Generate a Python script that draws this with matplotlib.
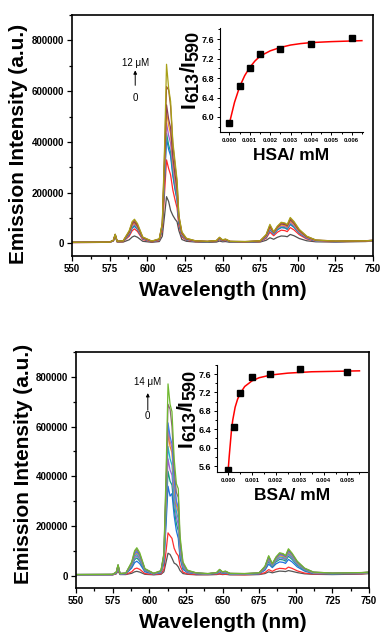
import numpy as np
import matplotlib
matplotlib.use("Agg")
import matplotlib.pyplot as plt
from matplotlib.ticker import MultipleLocator, FixedLocator

plt.rcParams['font.family'] = ['Liberation Sans', 'DejaVu Sans']

W, H = 382, 634

# -- wavelength grid (nm) shared by every spectrum --
wl = [550, 575, 577.5, 578.7, 580, 584, 588, 590, 591.5, 593.5, 597, 603, 608, 610,
      611.5, 612.8, 614.2, 615.5, 617, 618.5, 619.8, 621, 623, 626, 632, 640, 646, 648,
      650, 652, 655, 665, 675, 679, 681.5, 684, 686.5, 689, 691.5, 693, 695, 697.5,
      701, 706, 712, 725, 745, 750]

# -- HSA titration, intensities in units of 1000 --
hsa_curves = [
    [3, 4, 9, 28, 5, 5, 14, 25, 29, 24, 8, 4, 7, 28, 110, 184, 165, 130, 110, 95, 85, 50, 15, 8, 5, 4, 5, 9, 6, 7, 4, 4, 5, 12, 22, 16, 24, 29, 28, 26, 35, 30, 19, 10, 6, 5, 7, 9],
    [3, 4, 10, 31, 6, 7, 28, 50, 57, 47, 15, 6, 11, 50, 200, 329, 295, 270, 210, 170, 140, 70, 25, 12, 7, 6, 8, 15, 9, 11, 6, 5, 7, 20, 44, 30, 44, 52, 50, 46, 62, 53, 34, 17, 8, 7, 8, 10],
    [4, 4, 11, 32, 7, 8, 34, 60, 67, 55, 18, 7, 13, 60, 250, 414, 370, 345, 265, 210, 170, 82, 30, 14, 8, 6, 9, 17, 10, 12, 6, 5, 8, 24, 53, 36, 53, 62, 60, 55, 74, 63, 40, 20, 9, 7, 9, 11],
    [4, 4, 11, 33, 7, 8, 36, 63, 70, 57, 19, 7, 13, 63, 262, 434, 388, 360, 275, 218, 176, 85, 31, 14, 8, 6, 9, 18, 10, 12, 6, 5, 8, 25, 55, 38, 55, 64, 62, 57, 77, 65, 41, 21, 9, 7, 9, 11],
    [4, 4, 11, 33, 7, 9, 39, 68, 75, 61, 20, 7, 14, 68, 285, 474, 425, 395, 300, 235, 190, 92, 34, 15, 8, 7, 10, 19, 11, 13, 7, 6, 8, 27, 59, 40, 59, 68, 66, 61, 82, 69, 44, 22, 10, 7, 9, 11],
    [4, 4, 12, 34, 7, 9, 42, 73, 80, 65, 21, 8, 15, 72, 310, 520, 465, 432, 325, 255, 205, 98, 37, 16, 9, 7, 10, 20, 12, 14, 7, 6, 9, 29, 63, 42, 62, 72, 70, 65, 88, 74, 47, 24, 11, 8, 9, 11],
    [4, 5, 12, 35, 8, 9, 44, 77, 84, 68, 22, 8, 16, 75, 325, 546, 490, 455, 340, 268, 215, 100, 39, 17, 9, 7, 10, 21, 12, 15, 7, 6, 9, 31, 67, 43, 64, 76, 74, 68, 93, 78, 50, 25, 12, 8, 10, 12],
    [4, 5, 12, 35, 8, 10, 47, 82, 90, 73, 24, 8, 17, 78, 355, 618, 605, 540, 390, 305, 240, 108, 43, 19, 10, 8, 11, 23, 13, 16, 8, 7, 10, 33, 71, 44, 66, 80, 78, 72, 98, 83, 53, 27, 13, 9, 10, 12],
    [4, 5, 12, 36, 8, 10, 50, 86, 95, 78, 25, 9, 18, 80, 380, 706, 612, 560, 400, 320, 250, 110, 45, 20, 10, 8, 11, 24, 14, 17, 8, 7, 10, 35, 75, 45, 68, 83, 80, 74, 102, 86, 55, 28, 13, 9, 10, 12],
]
hsa_colors = ['#505050', '#ff2a2a', '#1e6fe0', '#12a58a', '#a35bd6', '#f0a020',
              '#8b3c5a', '#a0522d', '#a8a018']

# -- BSA titration, intensities in units of 1000 --
bsa_curves = [
    [3, 3, 7, 20, 4, 4, 9, 15, 17, 14, 5, 3, 5, 15, 55, 90, 85, 70, 50, 45, 35, 20, 8, 5, 3, 3, 4, 6, 4, 5, 3, 3, 4, 8, 15, 11, 15, 18, 17, 16, 20, 17, 12, 7, 5, 4, 6, 8],
    [3, 3, 8, 24, 5, 5, 15, 27, 30, 25, 8, 4, 7, 25, 100, 172, 160, 150, 110, 90, 80, 40, 14, 7, 4, 4, 5, 8, 5, 6, 4, 3, 5, 12, 24, 17, 25, 29, 28, 26, 34, 29, 19, 10, 6, 5, 7, 9],
    [3, 4, 10, 32, 6, 7, 30, 52, 58, 48, 15, 6, 11, 50, 210, 360, 320, 330, 240, 180, 150, 70, 25, 12, 7, 6, 8, 15, 9, 11, 6, 5, 7, 22, 46, 32, 47, 55, 53, 49, 65, 55, 35, 18, 8, 7, 8, 10],
    [4, 4, 11, 35, 7, 8, 36, 64, 71, 58, 19, 7, 13, 58, 245, 420, 380, 365, 270, 210, 180, 82, 30, 14, 8, 6, 9, 17, 10, 12, 6, 5, 8, 26, 56, 36, 55, 65, 63, 58, 78, 65, 42, 21, 9, 7, 9, 11],
    [4, 4, 12, 37, 7, 8, 40, 71, 79, 64, 21, 7, 14, 64, 272, 470, 425, 405, 300, 235, 205, 92, 34, 15, 8, 7, 10, 19, 11, 13, 7, 6, 8, 28, 61, 39, 60, 71, 69, 63, 85, 71, 46, 23, 10, 8, 10, 12],
    [4, 4, 12, 38, 7, 9, 43, 77, 85, 69, 22, 8, 15, 70, 300, 520, 470, 445, 330, 258, 228, 102, 37, 16, 9, 7, 10, 20, 12, 14, 7, 6, 9, 30, 65, 41, 63, 75, 73, 67, 90, 75, 48, 24, 11, 8, 10, 12],
    [4, 4, 13, 40, 8, 9, 46, 83, 92, 75, 24, 8, 16, 76, 330, 575, 520, 495, 360, 283, 255, 115, 41, 17, 9, 7, 11, 21, 13, 15, 8, 7, 9, 32, 69, 43, 67, 80, 77, 71, 95, 80, 51, 26, 12, 9, 10, 12],
    [4, 4, 13, 40, 8, 9, 48, 86, 95, 78, 25, 8, 17, 80, 345, 600, 540, 515, 375, 295, 268, 120, 43, 18, 10, 7, 11, 22, 13, 16, 8, 7, 10, 33, 71, 44, 69, 83, 80, 73, 98, 82, 53, 27, 12, 9, 11, 13],
    [4, 4, 13, 41, 8, 9, 49, 88, 97, 80, 25, 8, 17, 82, 355, 615, 560, 530, 385, 300, 275, 123, 44, 18, 10, 7, 11, 22, 13, 16, 8, 7, 10, 34, 73, 45, 70, 85, 82, 75, 100, 84, 54, 27, 13, 9, 11, 13],
    [4, 5, 14, 43, 8, 10, 52, 95, 105, 86, 27, 9, 19, 86, 385, 690, 670, 600, 430, 335, 315, 143, 50, 20, 11, 8, 12, 24, 14, 17, 9, 8, 11, 36, 77, 47, 73, 89, 85, 78, 104, 87, 56, 29, 14, 10, 12, 14],
    [4, 5, 14, 44, 8, 10, 55, 100, 112, 92, 28, 9, 20, 90, 420, 772, 690, 660, 470, 370, 350, 160, 55, 22, 11, 8, 12, 25, 15, 18, 9, 8, 11, 38, 80, 48, 75, 92, 88, 80, 108, 90, 58, 30, 14, 10, 12, 14],
]
bsa_colors = ['#555555', '#ff3030', '#1f6fe0', '#10a080', '#a060d0', '#20b8c8',
              '#f08a20', '#e07090', '#4080f0', '#8a6a70', '#70b830']

# -- inset data: ratio I613/I590 vs protein concentration (mM) --
hsa_conc = [0.0, 0.0005, 0.001, 0.0015, 0.0025, 0.004, 0.006]
hsa_ratio = [5.87, 6.63, 7.00, 7.30, 7.39, 7.51, 7.62]
hsa_fit_x = [0.0, 0.00025, 0.0005, 0.00075, 0.001, 0.00125, 0.0015, 0.002, 0.0025,
             0.003, 0.0035, 0.004, 0.005, 0.0065]
hsa_fit_y = [5.87, 6.30, 6.62, 6.85, 7.02, 7.15, 7.25, 7.36, 7.43, 7.48, 7.51, 7.53, 7.55, 7.57]

bsa_conc = [0.0, 0.00025, 0.0005, 0.001, 0.00175, 0.003, 0.005]
bsa_ratio = [5.52, 6.45, 7.18, 7.54, 7.61, 7.71, 7.65]
bsa_fit_x = [0.0, 0.00005, 0.0001, 0.00015, 0.0002, 0.0003, 0.0004, 0.0005, 0.0007,
             0.001, 0.0013, 0.0018, 0.0025, 0.0035, 0.0045, 0.0055]
bsa_fit_y = [5.45, 5.80, 6.10, 6.40, 6.60, 6.88, 7.05, 7.17, 7.33, 7.45, 7.52, 7.58,
             7.62, 7.65, 7.66, 7.67]


def ratio_label(fig, x_px, y_px):
    # Origin-style I613/I590 with big subscripts, written bottom-up (rotated 90)
    parts = [('I', 15, 0), ('613', 13, 3.5), ('/', 15, 0), ('I', 15, 0), ('590', 13, 3.5)]
    renderer = fig.canvas.get_renderer()
    yb = H - y_px
    for s, size, dx in parts:
        t = fig.text((x_px + dx) / W, yb / H, s, rotation=90, rotation_mode='anchor',
                     ha='left', va='baseline', fontsize=size, fontweight='bold')
        yb += t.get_window_extent(renderer).height


def draw_panel(fig, rect, inset_rect, curves, colors, conc, ratio, fit_x, fit_y,
               inset_xmax, inset_ylim, inset_yticks, inset_xticks, protein, top_label,
               ann_x, ann_ys, ylab_xy):
    ax = fig.add_axes(rect)
    for vals, c in zip(curves, colors):
        ax.plot(wl, np.array(vals) * 1000, color=c, lw=0.9)
    ax.set_xlim(550, 750)
    ax.set_ylim(-50000, 900000)
    ax.xaxis.set_major_locator(MultipleLocator(25))
    ax.xaxis.set_minor_locator(MultipleLocator(12.5))
    ax.yaxis.set_major_locator(FixedLocator([0, 200000, 400000, 600000, 800000]))
    ax.yaxis.set_minor_locator(MultipleLocator(100000))
    ax.tick_params(which='both', direction='out', top=False, right=False, width=0.9)
    ax.tick_params(which='major', length=3.5, labelsize=7, pad=2)
    ax.tick_params(which='minor', length=2)
    for lab in ax.get_xticklabels() + ax.get_yticklabels():
        lab.set_fontweight('bold')
    for s in ax.spines.values():
        s.set_linewidth(1.2)
    ax.set_xlabel('Wavelength (nm)', fontsize=15, fontweight='bold', labelpad=5)
    ax.set_ylabel('Emission Intensity (a.u.)', fontsize=15, fontweight='bold')
    ax.yaxis.set_label_coords(*ylab_xy)

    # titration annotation
    ax.text(ann_x, ann_ys[0], top_label + ' \u03bcM', ha='center', va='center', fontsize=7)
    ax.annotate('', xy=(ann_x, ann_ys[1]), xytext=(ann_x, ann_ys[2]),
                arrowprops=dict(arrowstyle='-|>', lw=0.7, color='black',
                                mutation_scale=5, shrinkA=0, shrinkB=0))
    ax.text(ann_x, ann_ys[3], '0', ha='center', va='center', fontsize=7)

    # inset
    ins = fig.add_axes(inset_rect)
    ins.plot(fit_x, fit_y, color='red', lw=1.1, zorder=2)
    ins.plot(conc, ratio, 's', color='black', ms=5, zorder=3)
    ins.set_xlim(-0.00046, inset_xmax)
    ins.set_ylim(*inset_ylim)
    ins.spines['top'].set_visible(False)
    ins.spines['right'].set_visible(False)
    ins.set_yticks(inset_yticks)
    ins.set_yticklabels(['%.1f' % v for v in inset_yticks], fontsize=6.5, fontweight='bold')
    ins.set_xticks(inset_xticks)
    ins.set_xticklabels(['%.3f' % v for v in inset_xticks], fontsize=4.3, fontweight='bold')
    ins.yaxis.set_minor_locator(MultipleLocator(0.2))
    ins.xaxis.set_minor_locator(MultipleLocator(0.0005))
    ins.tick_params(which='both', direction='out', width=0.7)
    ins.tick_params(which='major', length=2.5, pad=1.5)
    ins.tick_params(which='minor', length=1.5)
    ins.set_xlabel(protein + '/ mM', fontsize=12.5, fontweight='bold', labelpad=4)
    return ax, ins


fig = plt.figure(figsize=(W / 100, H / 100), dpi=100)

draw_panel(fig, [0.1885, 0.5962, 0.788, 0.380], [0.576, 0.7918, 0.374, 0.164],
           hsa_curves, hsa_colors, hsa_conc, hsa_ratio, hsa_fit_x, hsa_fit_y,
           0.00655, (5.69, 7.83), [6.0, 6.4, 6.8, 7.2, 7.6],
           [0.0, 0.001, 0.002, 0.003, 0.004, 0.005, 0.006], 'HSA', '12',
           592, [713000, 682000, 623000, 575000], (-0.146, 0.465))
ratio_label(fig, 195, 108)

draw_panel(fig, [0.199, 0.0726, 0.767, 0.372], [0.568, 0.2555, 0.393, 0.169],
           bsa_curves, bsa_colors, bsa_conc, bsa_ratio, bsa_fit_x, bsa_fit_y,
           0.00582, (5.47, 7.80), [5.6, 6.0, 6.4, 6.8, 7.2, 7.6],
           [0.0, 0.001, 0.002, 0.003, 0.004, 0.005], 'BSA', '14',
           599, [779000, 735000, 666000, 642000], (-0.147, 0.525))
ratio_label(fig, 192, 447)

fig.savefig('out.png', dpi=100)
